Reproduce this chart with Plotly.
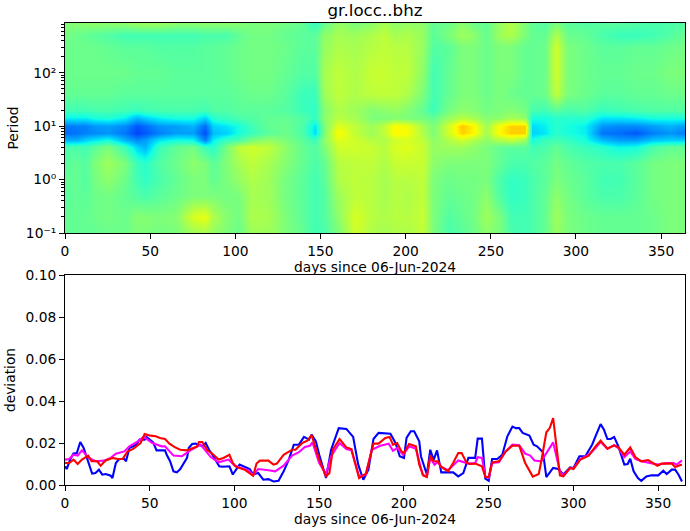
import plotly.graph_objects as go

# spectrogram columns (days) and rows (period)
map_days = [2, 7, 12, 17, 25, 35, 42, 47, 55, 65, 75, 82, 87, 95, 102, 110, 120, 130, 140, 147, 152, 160, 170, 180,
            187, 194, 201, 210, 216, 225, 233, 240, 247, 255, 262, 270, 274, 282, 288, 295, 305, 315, 325, 335, 345,
            355, 363]
map_periods = [0.1, 0.2, 0.5, 1, 2, 4, 5.5, 7.4, 10, 14, 20, 40, 100, 300, 500, 850]
map_values = [
    [.47,.47,.47,.47,.48, .48,.50,.50,.49,.50, .54,.55,.53,.50,.48, .54,.54,.50,.47,.43, .44,.50,.60,.56,.55, .56,.56,.58,.50,.44, .46,.48,.52,.50,.44, .43,.44,.47,.53,.50, .48,.47,.47,.47,.48, .50,.50],
    [.47,.47,.47,.48,.49, .48,.51,.51,.50,.51, .61,.63,.56,.51,.49, .56,.55,.50,.46,.43, .45,.52,.61,.57,.56, .57,.57,.59,.50,.45, .47,.49,.54,.50,.43, .43,.44,.47,.54,.50, .48,.47,.47,.47,.48, .50,.50],
    [.46,.47,.46,.48,.49, .47,.45,.44,.46,.48, .50,.50,.50,.49,.50, .55,.54,.49,.46,.43, .45,.54,.58,.57,.55, .57,.56,.58,.50,.47, .48,.49,.52,.45,.41, .42,.44,.47,.52,.49, .46,.44,.44,.46,.49, .50,.50],
    [.47,.47,.45,.49,.52, .48,.43,.41,.44,.47, .50,.50,.47,.50,.53, .56,.54,.49,.46,.43, .46,.56,.58,.57,.55, .57,.57,.58,.50,.48, .49,.49,.50,.44,.41, .42,.44,.46,.50,.48, .46,.43,.43,.46,.49, .50,.50],
    [.46,.47,.45,.50,.54, .50,.42,.40,.45,.48, .52,.50,.46,.51,.55, .58,.55,.51,.47,.44, .47,.57,.58,.58,.56, .59,.59,.59,.52,.50, .50,.50,.50,.47,.44, .44,.45,.46,.49,.47, .45,.44,.44,.46,.49, .50,.50],
    [.44,.44,.43,.46,.50, .42,.33,.30,.42,.47, .49,.42,.40,.50,.58, .60,.58,.52,.47,.45, .50,.60,.60,.59,.57, .61,.62,.59,.53,.54, .54,.52,.50,.47,.46, .46,.43,.44,.47,.44, .42,.40,.37,.38,.44, .47,.47],
    [.30,.30,.33,.35,.38, .30,.26,.28,.35,.38, .37,.25,.36,.42,.44, .50,.53,.50,.46,.42, .52,.62,.60,.57,.56, .60,.61,.58,.52,.56, .60,.56,.52,.56,.58, .54,.38,.42,.43,.42, .38,.31,.28,.28,.32, .33,.33],
    [.23,.24,.25,.26,.27, .24,.19,.21,.25,.28, .28,.20,.31,.33,.38, .42,.46,.48,.44,.34, .50,.66,.58,.54,.58, .66,.65,.56,.50,.60, .70,.66,.55,.66,.70, .70,.33,.35,.40,.38, .36,.24,.23,.21,.25, .27,.25],
    [.24,.25,.25,.27,.28, .26,.21,.23,.27,.28, .30,.23,.33,.35,.38, .43,.47,.48,.44,.35, .50,.62,.58,.54,.58, .66,.64,.55,.50,.60, .71,.66,.54,.65,.70, .70,.34,.36,.40,.38, .36,.27,.26,.26,.28, .30,.28],
    [.36,.36,.36,.38,.39, .36,.30,.33,.36,.38, .38,.33,.40,.42,.44, .45,.47,.47,.45,.41, .52,.57,.55,.50,.50, .51,.50,.49,.47,.53, .57,.55,.51,.52,.55, .53,.38,.38,.40,.40, .40,.35,.35,.36,.38, .38,.38],
    [.43,.43,.43,.44,.44, .43,.42,.43,.44,.44, .44,.43,.45,.45,.46, .46,.46,.45,.42,.41, .51,.56,.54,.51,.52, .53,.51,.47,.42,.49, .52,.51,.49,.50,.51, .49,.44,.43,.46,.44, .45,.42,.43,.44,.45, .45,.45],
    [.47,.47,.47,.47,.47, .46,.46,.46,.46,.46, .46,.46,.46,.46,.47, .48,.48,.46,.42,.42, .54,.58,.56,.58,.58, .58,.56,.50,.43,.47, .50,.50,.48,.50,.48, .47,.47,.48,.58,.50, .48,.46,.46,.47,.47, .48,.48],
    [.48,.48,.48,.48,.48, .48,.47,.47,.47,.46, .46,.46,.46,.47,.48, .49,.49,.47,.45,.45, .55,.58,.56,.59,.59, .58,.58,.52,.43,.47, .50,.50,.48,.50,.50, .47,.47,.48,.60,.50, .48,.47,.47,.48,.48, .50,.50],
    [.48,.48,.48,.48,.47, .46,.46,.46,.45,.45, .45,.46,.46,.47,.48, .49,.49,.48,.46,.46, .53,.56,.55,.57,.58, .57,.57,.53,.45,.46, .50,.50,.48,.50,.50, .47,.47,.48,.60,.50, .48,.46,.46,.47,.47, .48,.49],
    [.49,.48,.47,.46,.45, .43,.43,.43,.43,.43, .43,.44,.44,.44,.47, .49,.49,.47,.46,.46, .52,.55,.54,.56,.58, .55,.56,.53,.46,.50, .54,.52,.47,.54,.56, .50,.47,.47,.56,.48, .47,.44,.42,.42,.43, .45,.47],
    [.51,.51,.52,.52,.52, .52,.54,.54,.54,.52, .52,.52,.52,.52,.51, .50,.50,.49,.47,.41, .47,.53,.50,.52,.55, .52,.53,.52,.47,.48, .52,.48,.47,.53,.57, .50,.47,.45,.50,.46, .45,.46,.46,.45,.44, .44,.45],
]
period_ticks = [0.1, 1, 10, 100]
period_labels = ['10⁻¹', '10⁰', '10¹', '10²']

# deviation curves
blue_days = [0, 1, 3, 5, 7, 9, 11, 13, 16, 18, 20, 22, 24, 27, 28, 30, 32, 35, 36, 38, 40, 42, 44, 47, 48, 50, 52, 54,
             57, 59, 60, 62, 64, 66, 68, 70, 72, 73, 75, 77, 79, 81, 83, 85, 87, 91, 93, 97, 99, 103, 109, 111, 114,
             117, 120, 123, 126, 129, 132, 135, 138, 141, 144, 145.5, 148, 150, 154, 157, 161.5, 166, 170, 173, 176,
             179, 182, 185, 192, 195, 197.5, 200, 201.5, 204, 206, 209, 210, 213.5, 215.5, 217.5, 219.5, 222, 229,
             232, 235, 238, 242, 243.5, 246, 248, 250, 252, 255, 258, 261, 264, 266, 268, 270, 274, 276.5, 278.5,
             282, 284, 288, 291, 294, 298, 300, 303.5, 307, 311, 313, 316, 318, 320, 322, 324, 326.5, 330, 332,
             333.5, 335.5, 338, 340, 343, 346, 350, 353, 355, 358, 360, 362, 364]
blue_vals = [.0089, .0076, .012, .015, .0152, .0205, .0176, .0129, .0054, .0057, .0073, .0049, .0052, .0044, .0033,
             .0105, .0124, .0124, .0113, .0176, .0184, .0192, .0216, .0216, .0229, .0216, .0203, .0165, .0163, .0165,
             .0144, .0113, .0065, .006, .0076, .0105, .0129, .0176, .0195, .0197, .0192, .0184, .02, .0168, .0144,
             .0089, .0087, .0089, .005, .0097, .0076, .005, .0057, .0025, .0028, .0017, .002, .0065, .012, .0192,
             .0192, .0229, .0216, .024, .0208, .0144, .0033, .0168, .0271, .0267, .0229, .0097, .0025, .0073, .0219,
             .0248, .0244, .02, .0137, .0129, .0224, .0256, .0256, .0208, .0137, .005, .0168, .012, .0165, .006, .006,
             .0041, .0057, .0129, .0129, .0221, .0221, .003, .002, .0124, .0124, .0144, .0232, .0278, .0271, .0271,
             .0248, .0235, .0192, .0184, .0156, .0038, .0081, .0076, .005, .0084, .0081, .0137, .0137, .0192, .0232,
             .029, .0263, .0219, .0219, .0229, .0184, .0097, .01, .0125, .0065, .0033, .002, .0041, .0046, .0046,
             .0068, .0052, .0073, .0073, .0049, .0017]

magenta_days = [0, 2.5, 5, 7.5, 10, 14, 18, 23, 27, 30, 35, 38, 43, 46.5, 51.5, 57, 59, 64, 69, 74, 80, 86, 90.6, 96.5,
                100, 108, 111, 114, 120, 124, 129, 134, 138, 141.5, 144.5, 146, 150, 154, 157, 162, 166, 169, 173.5,
                177.5, 181, 186, 191, 193.5, 196, 199.5, 203, 207, 211, 213.5, 215.5, 218, 220, 222, 226, 232, 238,
                242, 243.5, 246, 248, 250, 252, 256, 260, 264, 268, 271.5, 274.5, 277, 281, 284, 288, 292, 294, 298,
                300, 304, 309, 313, 316, 320, 324, 326.5, 330, 333.5, 336.5, 340, 346, 350, 355, 359, 361, 364]
magenta_vals = [.0121, .0124, .0144, .014, .0165, .0129, .0113, .0116, .0129, .0149, .016, .0184, .0208, .0229, .02,
                .0184, .0184, .014, .0137, .0165, .0192, .0133, .0108, .0121, .0092, .007, .0049, .0076, .007, .0065,
                .0092, .014, .0156, .0181, .0187, .0203, .0105, .0052, .0137, .02, .0171, .0165, .0041, .0049, .0168,
                .0187, .0197, .0163, .0176, .0144, .0184, .0173, .0049, .0041, .0129, .0097, .011, .0086, .007, .0117,
                .0102, .0105, .0132, .0129, .0041, .0033, .0105, .0108, .016, .0192, .0189, .0149, .014, .0117, .0113,
                .0149, .0203, .0065, .0044, .0081, .0079, .0124, .0144, .0176, .0205, .0173, .0189, .0176, .0133,
                .016, .0124, .0113, .0105, .0097, .0105, .0105, .0097, .0117]

red_days = [0, 2.5, 5, 7.5, 10, 13.7, 15.7, 19, 21, 24, 28, 31, 34, 37, 40, 43, 44.6, 47, 50.5, 53.5, 56, 59, 61.6, 65,
            68, 72, 75, 78, 79, 81, 84, 87, 90.6, 93.5, 97, 99, 101, 106, 111, 113, 115, 120, 123, 125, 129, 134, 136,
            140, 143, 145.5, 150, 154, 156, 158, 162, 166, 169, 173.5, 177.5, 182, 185, 189, 191.5, 193.5, 196, 198.5,
            200, 203, 207, 209, 211.5, 213.5, 215.5, 217.5, 220, 222, 226, 229, 232, 234, 237, 239, 242, 246, 248, 250,
            252, 256, 260, 264, 268, 271.5, 276, 279.5, 281, 284, 286, 288, 292, 294, 298, 300, 304, 309, 313, 316,
            320, 324, 326.5, 330, 333.5, 336.5, 340, 344, 349.5, 352, 358, 360, 364]
red_vals = [.0105, .0105, .0121, .01, .0121, .014, .0113, .0113, .0092, .0117, .0129, .0124, .0124, .016, .0171, .0192,
            .02, .0243, .0235, .0232, .0224, .0219, .0197, .0179, .0168, .0165, .0176, .0184, .0205, .0205, .0165,
            .0149, .0121, .0129, .0144, .0105, .0086, .0073, .0044, .0102, .0116, .0116, .0097, .0102, .0144, .0168,
            .0168, .02, .0211, .0237, .0121, .0041, .0057, .0168, .0219, .0179, .0171, .0033, .0054, .0197, .0197,
            .0224, .0229, .0192, .02, .016, .0152, .0195, .0184, .0097, .0044, .0038, .014, .0113, .0113, .0086, .0065,
            .0105, .0152, .0152, .0105, .01, .0102, .0089, .0038, .0038, .0108, .0113, .016, .0187, .0187, .0105,
            .004, .0052, .0113, .0251, .0271, .0319, .0046, .0041, .0081, .0076, .0121, .014, .0184, .0211, .0173,
            .0189, .0179, .0144, .0179, .0133, .0113, .0119, .0092, .0102, .0102, .0086, .0098]

xlabel = 'days since 06-Jun-2024'
font = dict(family='DejaVu Sans', size=13.8, color='black')

# same stops as matplotlib's jet
jet = [[0, 'rgb(0,0,127)'], [0.11, 'rgb(0,0,255)'], [0.125, 'rgb(0,0,255)'], [0.35, 'rgb(0,230,250)'],
       [0.375, 'rgb(20,255,225)'], [0.64, 'rgb(240,255,8)'], [0.66, 'rgb(255,250,0)'], [0.89, 'rgb(255,8,0)'],
       [0.91, 'rgb(255,0,0)'], [1, 'rgb(127,0,0)']]

fig = go.Figure()
fig.add_trace(go.Heatmap(x=map_days, y=map_periods, z=map_values, colorscale=jet, zmin=0, zmax=1, zsmooth='best',
                         showscale=False, xaxis='x', yaxis='y'))
for days, vals, color in [(blue_days, blue_vals, 'blue'), (magenta_days, magenta_vals, 'magenta'),
                          (red_days, red_vals, 'red')]:
    fig.add_trace(go.Scatter(x=days, y=vals, mode='lines', line=dict(color=color, width=2.1), showlegend=False,
                             xaxis='x2', yaxis='y2'))

axis_style = dict(showgrid=False, zeroline=False, showline=True, mirror=True, linecolor='black', linewidth=1,
                  ticks='outside', ticklen=5, tickwidth=1, tickcolor='black', tickfont=font, automargin=False)
W, H = 690, 531
log_minor = [m * 10 ** k for k in range(-1, 3) for m in range(2, 10)]

fig.update_layout(
    width=W, height=H, margin=dict(l=0, r=0, t=0, b=0, autoexpand=False), autosize=False,
    paper_bgcolor='white', plot_bgcolor='white', font=font, showlegend=False,
    title=dict(text='gr.locc..bhz', x=375 / W, xanchor='center', y=1 - 10 / H, yanchor='middle',
               font=dict(family='DejaVu Sans', size=16.7, color='black')),
    xaxis=dict(axis_style, domain=[65 / W, 685 / W], range=[0, 364], tick0=0, dtick=50, anchor='y',
               title=dict(text=xlabel, font=font, standoff=3)),
    yaxis=dict(axis_style, type='log', domain=[1 - 233 / H, 1 - 23 / H], range=[-1, 2.93], tickvals=period_ticks,
               ticktext=period_labels, anchor='x', title=dict(text='Period', font=font, standoff=4),
               minor=dict(tickvals=log_minor, ticks='outside', ticklen=3, tickwidth=1, tickcolor='black')),
    xaxis2=dict(axis_style, domain=[65 / W, 685 / W], range=[0, 365.8], tick0=0, dtick=50, anchor='y2',
                title=dict(text=xlabel, font=font, standoff=3)),
    yaxis2=dict(axis_style, domain=[1 - 485 / H, 1 - 275 / H], range=[0, 0.1], dtick=0.02, tickformat='.2f',
                anchor='x2', title=dict(text='deviation', font=font, standoff=6)),
)

# the browser's default body margin would push the figure off its pixel positions
fig.write_html("out.html", config=dict(displayModeBar=False), post_script="document.body.style.margin='0';")
